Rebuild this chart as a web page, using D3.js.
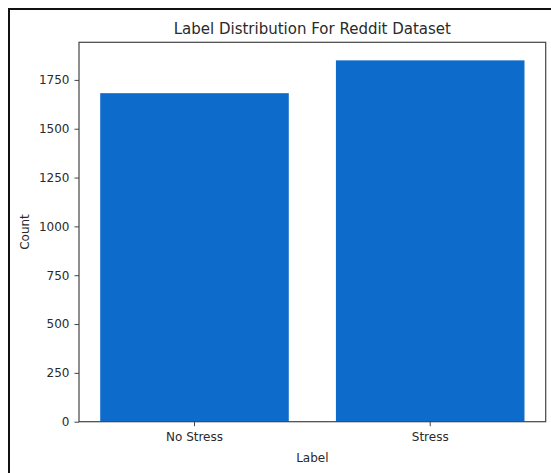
<!DOCTYPE html>
<html>
<head>
<meta charset="utf-8">
<script src="https://cdn.jsdelivr.net/npm/d3@7"></script>
<style>
  html, body { margin: 0; padding: 0; background: #fff; }
  svg { display: block; }
</style>
</head>
<body>
<svg id="chart" width="551" height="473"></svg>
<script>
const categories = ["No Stress", "Stress"];
const counts = [1682, 1850];
const yTicks = [0, 250, 500, 750, 1000, 1250, 1500, 1750];
const titleText = "Label Distribution For Reddit Dataset";
const xLabelText = "Label";
const yLabelText = "Count";

(function () {
const svg = d3.select("#chart");
const W = 551, H = 473;
const mLeft = 79, mRight = 545.7, mTop = 42.3, mBottom = 421.7;
const font = "DejaVu Sans, sans-serif";
const axisColor = "#444";
const textColor = "#2a2a2a";

// outer frame (left and top visible)
svg.append("path")
  .attr("d", `M9,${H} L9,9 L${W},9`)
  .attr("fill", "none")
  .attr("stroke", "#111")
  .attr("stroke-width", 2);

const x = d3.scaleBand()
  .domain(categories)
  .range([mLeft, mRight])
  .paddingInner(0.2)
  .paddingOuter(0.09);

const y = d3.scaleLinear()
  .domain([0, d3.max(counts) * 1.05])
  .range([mBottom, mTop]);

// bars
svg.append("g").selectAll("rect")
  .data(categories)
  .join("rect")
  .attr("x", d => x(d))
  .attr("width", x.bandwidth())
  .attr("y", (d, i) => y(counts[i]))
  .attr("height", (d, i) => y(0) - y(counts[i]))
  .attr("fill", "#0d6bcb");

// y axis
const yAxis = svg.append("g")
  .attr("transform", `translate(${mLeft},0)`)
  .call(d3.axisLeft(y).tickValues(yTicks).tickFormat(d3.format("d")).tickSize(4.5).tickPadding(5).tickSizeOuter(0));
yAxis.select(".domain").remove();
yAxis.selectAll("line").attr("stroke", axisColor);
yAxis.selectAll("text").attr("fill", textColor).style("font-family", font).style("font-size", "12px");

// x axis
const xAxis = svg.append("g")
  .attr("transform", `translate(0,${mBottom})`)
  .call(d3.axisBottom(x).tickSize(4.5).tickPadding(6).tickSizeOuter(0));
xAxis.select(".domain").remove();
xAxis.selectAll("line").attr("stroke", axisColor);
xAxis.selectAll("text").attr("fill", textColor).style("font-family", font).style("font-size", "12px");

// spines
svg.append("rect")
  .attr("x", mLeft).attr("y", mTop)
  .attr("width", mRight - mLeft).attr("height", mBottom - mTop)
  .attr("fill", "none").attr("stroke", axisColor).attr("stroke-width", 1.2);

// title
svg.append("text")
  .attr("x", (mLeft + mRight) / 2).attr("y", 34)
  .attr("text-anchor", "middle")
  .attr("fill", textColor)
  .style("font-family", font).style("font-size", "15px")
  .text(titleText);

// x label
svg.append("text")
  .attr("x", (mLeft + mRight) / 2).attr("y", 462)
  .attr("text-anchor", "middle")
  .attr("fill", textColor)
  .style("font-family", font).style("font-size", "12px")
  .text(xLabelText);

// y label
svg.append("text")
  .attr("transform", `translate(29,${(mTop + mBottom) / 2}) rotate(-90)`)
  .attr("text-anchor", "middle")
  .attr("fill", textColor)
  .style("font-family", font).style("font-size", "12px")
  .text(yLabelText);
})();
</script>
</body>
</html>
